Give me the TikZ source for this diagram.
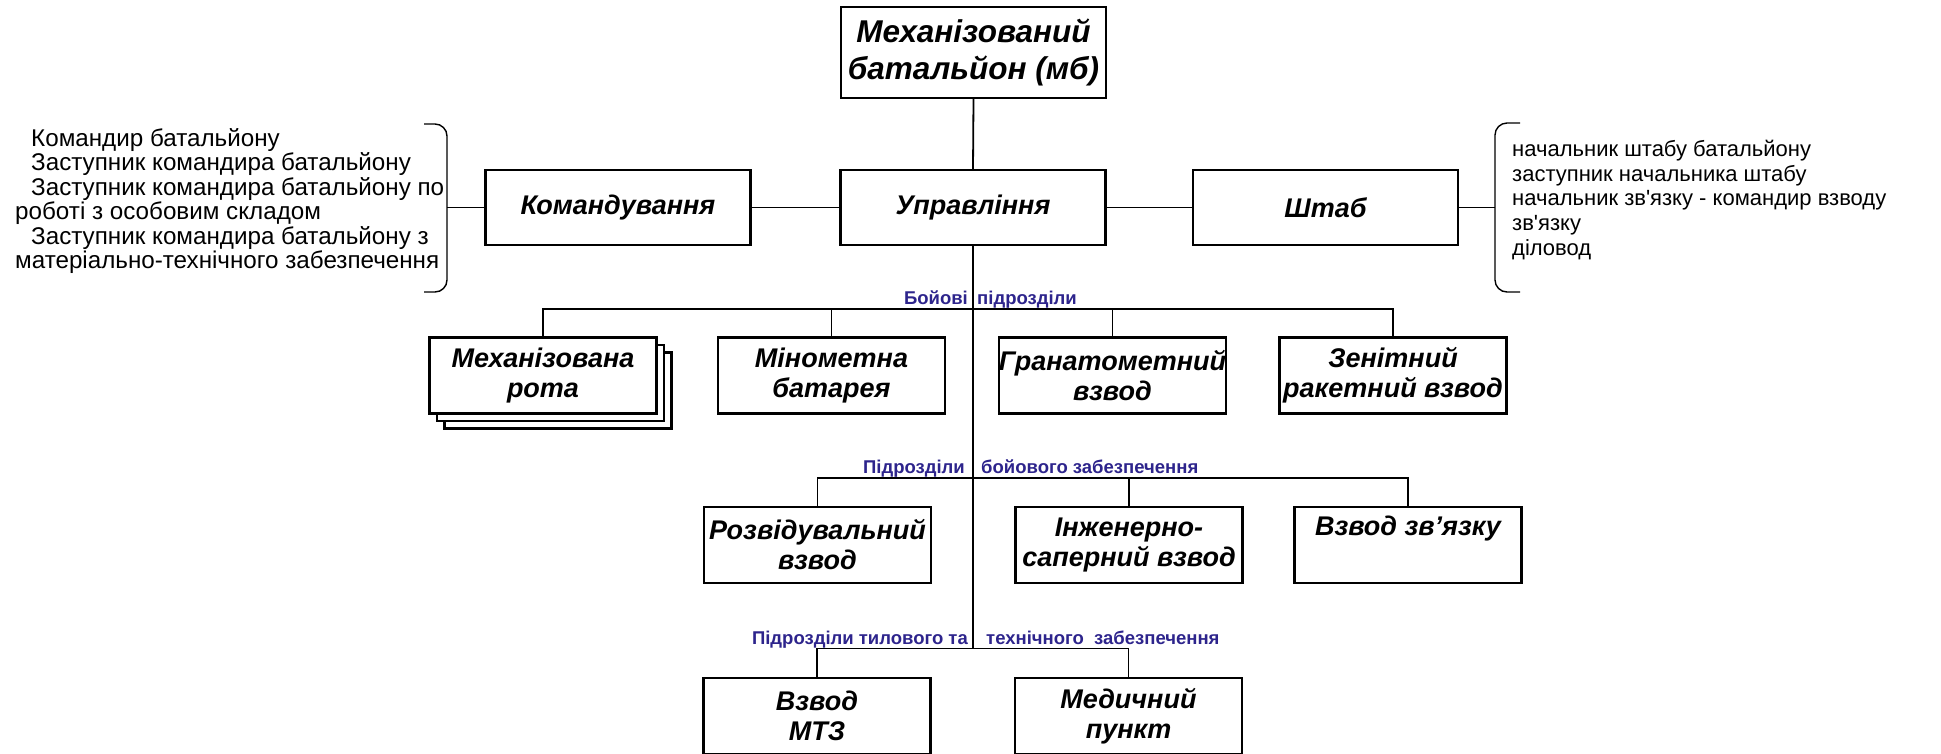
\documentclass[tikz,border=0pt]{standalone}
\usepackage{fontspec}
\setmainfont{Liberation Sans}[Ligatures=TeXOff]
\definecolor{lblc}{RGB}{45,36,140}
\begin{document}
\begin{tikzpicture}[x=1pt,y=-1pt,
  box/.style={draw,line width=2.2pt,fill=white,inner sep=0pt,align=center,
    font=\fontsize{27}{30}\selectfont\bfseries\itshape},
  topbox/.style={box,minimum width=265pt,minimum height=75pt},
  rowbox/.style={box,minimum width=227pt,minimum height=76pt},
  conn/.style={line width=1.8pt},
  brace/.style={line width=1.4pt,rounded corners=12pt},
  side/.style={inner sep=0pt,align=left,anchor=west},
  lbl/.style={inner sep=0pt,text=lblc,
    font=\fontsize{18.5}{20}\selectfont\bfseries}]
\useasboundingbox (0,0) rectangle (1941,753);

% top level
\node[box,minimum width=265pt,minimum height=91pt,
  font=\fontsize{31.5}{37}\selectfont\bfseries\itshape] (mb) at (973.5,52.5)
  {Механізований\\батальйон (мб)};
\node[topbox] (upr) at (973,207.5) {Управління};
\node[topbox] (kom) at (618,207.5) {Командування};
\node[topbox] (sht) at (1325.5,207.5) {Штаб};

% side texts
\node[side,font=\fontsize{24.2}{24.4}\selectfont] (ltext) at (15,201)
{\hspace*{16pt}Командир батальйону\\
\hspace*{16pt}Заступник командира батальйону\\
\hspace*{16pt}Заступник командира батальйону по\\
роботі з особовим складом\\
\hspace*{16pt}Заступник командира батальйону з\\
матеріально-технічного забезпечення};
\node[side,font=\fontsize{22}{24.8}\selectfont] (rtext) at (1512,200)
{начальник штабу батальйону\\
заступник начальника штабу\\
начальник зв'язку - командир взводу\\
зв'язку\\
діловод};

% braces
\draw[brace] (424,124) -- (447,124) -- (447,292) -- (424,292);
\coordinate (lb) at (447,207.5);
\draw[brace] (1520,123) -- (1495,123) -- (1495,292) -- (1520,292);
\coordinate (rb) at (1495,207.5);
\draw[conn] (lb) -- (kom.west);
\draw[conn] (kom.east) -- (upr.west);
\draw[conn] (upr.east) -- (sht.west);
\draw[conn] (sht.east) -- (rb);

% row 1
\node[rowbox] (mex3) at (558,390.5) {};
\node[rowbox] (mex2) at (550.5,383) {};
\node[rowbox] (mex) at (543,375.5) {Механізована\\рота};
\node[rowbox] (min) at (831.5,375.5) {Мінометна\\батарея};
\node[rowbox] (gran) at (1112.5,375.5) {Гранатометний\\взвод};
\node[rowbox] (zen) at (1393,375.5) {Зенітний\\ракетний взвод};

% row 2
\node[rowbox] (roz) at (817.5,544.7) {Розвідувальний\\взвод};
\node[rowbox] (inz) at (1129,544.7) {Інженерно-\\саперний взвод};
\node[rowbox] (zv) at (1408,544.7) {\raisebox{-2pt}{Взвод зв’язку}\\\strut};

% row 3
\node[rowbox] (mtz) at (817,716) {Взвод\\МТЗ};
\node[rowbox] (med) at (1128.5,716) {Медичний\\пункт};

% trunk
\coordinate (bus1) at (973,309);
\coordinate (bus2) at (973,478);
\coordinate (bus3) at (973,648.5);
\draw[conn] (mb.south) -- (upr.north);
\draw[conn] (upr.south) -- (bus3);

\draw[conn] (mex.north) |- (zen.north |- bus1) -- (zen.north);
\draw[conn] (min.north) -- (min.north |- bus1);
\draw[conn] (gran.north) -- (gran.north |- bus1);

\draw[conn] (roz.north) |- (zv.north |- bus2) -- (zv.north);
\draw[conn] (inz.north) -- (inz.north |- bus2);

\draw[conn] (mtz.north) |- (med.north |- bus3) -- (med.north);

% labels
\node[lbl,anchor=base east] (l1a) at (968,304) {Бойові};
\node[lbl,anchor=base west] (l1b) at (977,304) {підрозділи};
\node[lbl,anchor=base east] (l2a) at (965,473) {Підрозділи};
\node[lbl,anchor=base west] (l2b) at (981,473) {бойового забезпечення};
\node[lbl,anchor=base east] (l3a) at (968,644) {Підрозділи тилового та};
\node[lbl,anchor=base west] (l3b) at (986,644) {технічного\ \ забезпечення};
\end{tikzpicture}
\end{document}
